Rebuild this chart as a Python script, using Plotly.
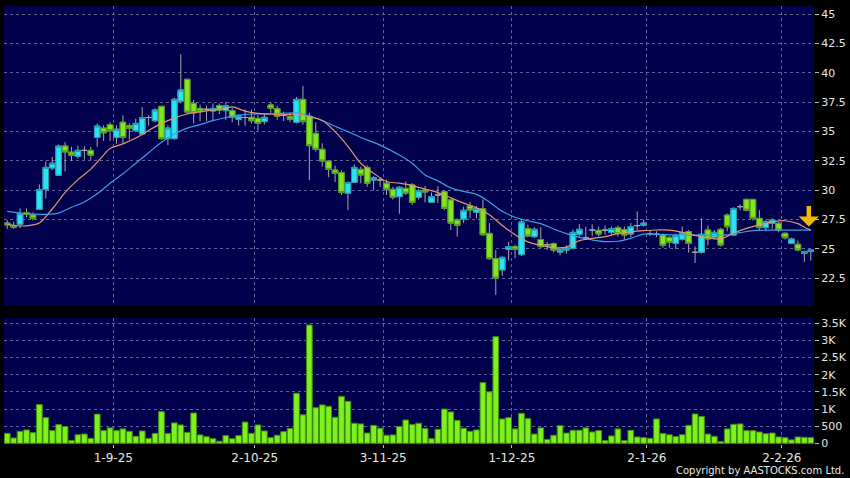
import plotly.graph_objects as go

# ---------------- data ----------------
tick_days = [17, 39, 59, 79, 100, 121]
tick_labels = ["1-9-25", "2-10-25", "3-11-25", "1-12-25", "2-1-26", "2-2-26"]

opens = [27.2, 27.0, 27.1, 28.1, 27.9, 28.37, 30.07, 31.9, 31.28, 33.77,
         33.25, 32.9, 33.4, 33.4, 34.5, 35.3, 35.6, 34.5, 35.8, 35.5,
         35.08, 34.8, 36.2, 35.93, 37.15, 34.4, 34.4, 37.6, 39.46, 37.41,
         36.98, 36.9, 36.76, 37.22, 36.79, 36.79, 36.05, 36.2, 36.22, 36.13,
         35.85, 37.27, 36.95, 36.4, 36.3, 35.8, 37.75, 36.3, 34.85, 33.49,
         32.48, 31.72, 31.5, 29.75, 30.67, 31.78, 31.95, 30.87, 30.87, 30.6,
         30.08, 29.45, 30.16, 30.45, 29.4, 30.02, 28.97, 29.6, 29.88, 29.17,
         27.46, 27.55, 28.66, 28.12, 28.43, 26.32, 24.17, 23.2, 24.96, 25.19,
         24.51, 26.72, 26.04, 25.8, 25.35, 25.45, 24.73, 24.9, 25.05, 26.24,
         25.95, 26.6, 26.58, 26.6, 26.4, 26.82, 26.65, 26.27, 26.98, 27.0,
         26.3, 26.25, 26.18, 25.98, 25.47, 25.82, 26.47, 24.71, 24.71, 26.61,
         25.98, 26.67, 27.88, 26.18, 28.6, 29.22, 29.22, 27.6, 26.81, 27.18,
         27.18, 26.33, 25.48, 25.39, 24.6, 24.77]
highs = [27.45, 27.3, 28.45, 28.45, 28.1, 30.5, 32.45, 32.85, 33.9, 34.1,
         33.7, 33.8, 33.75, 33.7, 35.7, 35.55, 35.8, 35.55, 36.4, 35.7,
         36.1, 37.1, 36.4, 37.0, 37.2, 35.55, 37.9, 41.6, 39.5, 37.7,
         37.3, 37.2, 37.4, 37.4, 37.5, 37.0, 36.45, 36.9, 36.9, 36.4,
         36.5, 37.5, 37.2, 36.7, 36.6, 37.95, 38.9, 36.6, 35.8, 34.0,
         32.5, 32.1, 31.7, 30.75, 32.2, 32.0, 32.1, 31.2, 31.1, 30.9,
         30.3, 30.35, 30.75, 30.6, 30.15, 30.35, 29.8, 30.35, 30.0, 29.2,
         27.6, 28.6, 29.0, 28.65, 29.2, 27.2, 24.9, 24.35, 25.6, 25.35,
         27.5, 27.05, 26.85, 26.85, 25.6, 25.55, 25.15, 25.3, 26.65, 27.1,
         26.9, 27.1, 26.9, 27.0, 26.9, 27.0, 26.9, 27.2, 28.2, 27.5,
         26.6, 26.5, 26.3, 26.1, 26.3, 26.9, 26.6, 25.2, 27.6, 27.0,
         26.6, 26.8, 28.0, 28.55, 28.8, 29.3, 29.25, 28.3, 27.45, 27.6,
         27.3, 26.4, 25.95, 25.7, 24.85, 24.95]
lows = [26.7, 26.7, 26.75, 27.7, 27.45, 28.3, 29.3, 31.7, 31.2, 31.6,
        32.5, 32.7, 32.6, 32.6, 33.7, 34.2, 34.2, 33.95, 34.0, 34.3,
        34.95, 34.7, 35.5, 35.8, 34.3, 33.85, 34.3, 37.4, 36.5, 35.7,
        35.9, 35.9, 35.9, 36.5, 36.0, 35.8, 35.5, 35.5, 35.7, 35.1,
        35.6, 36.6, 36.0, 35.9, 35.8, 35.7, 35.6, 30.87, 33.3, 32.0,
        31.1, 30.7, 29.6, 28.3, 30.6, 30.6, 30.3, 30.0, 30.3, 29.6,
        29.2, 28.0, 29.6, 28.75, 29.2, 28.95, 28.95, 28.9, 28.3, 26.6,
        26.05, 27.2, 27.6, 27.6, 26.1, 24.05, 21.07, 22.7, 24.0, 24.2,
        24.4, 26.0, 25.95, 25.05, 24.9, 24.7, 24.45, 24.6, 24.95, 26.05,
        25.75, 26.1, 26.05, 26.2, 26.2, 26.05, 25.8, 26.0, 26.6, 26.9,
        26.1, 26.0, 25.1, 25.1, 25.0, 25.7, 24.7, 23.8, 24.6, 25.3,
        25.8, 25.2, 26.5, 26.1, 28.3, 28.2, 27.4, 26.6, 26.5, 26.7,
        26.4, 25.8, 25.4, 24.8, 23.9, 24.0]
closes = [27.05, 26.85, 28.0, 27.95, 27.6, 30.07, 31.95, 32.3, 33.76, 33.27,
          32.98, 33.4, 33.4, 32.98, 35.47, 34.9, 35.08, 35.2, 34.5, 35.28,
          35.7, 36.2, 36.2, 36.84, 34.4, 35.3, 37.75, 38.55, 36.67, 36.61,
          36.7, 36.9, 36.98, 36.84, 37.21, 36.22, 36.33, 36.2, 35.93, 35.7,
          36.22, 36.98, 36.3, 36.4, 36.05, 37.75, 35.85, 33.8, 33.49, 32.5,
          31.78, 31.44, 29.8, 30.65, 31.95, 31.3, 30.6, 31.07, 30.87, 30.08,
          29.4, 30.25, 29.76, 28.97, 29.96, 29.85, 29.45, 29.6, 28.46, 27.2,
          27.01, 28.29, 28.32, 28.43, 26.21, 24.17, 22.52, 24.28, 25.19, 24.96,
          27.29, 26.1, 26.67, 25.19, 25.35, 24.9, 24.96, 25.08, 26.41, 26.67,
          25.95, 26.6, 26.27, 26.6, 26.74, 26.3, 26.18, 26.9, 26.98, 27.2,
          26.3, 26.25, 25.3, 25.55, 26.15, 26.4, 25.47, 24.71, 26.24, 25.85,
          26.41, 25.33, 26.89, 28.45, 28.6, 28.3, 27.6, 26.81, 27.34, 27.46,
          26.61, 25.95, 25.85, 24.91, 24.77, 24.91]
volumes = [290, 155, 350, 390, 310, 1130, 750, 370, 545, 490,
           80, 250, 270, 145, 850, 370, 450, 370, 420, 350,
           205, 360, 145, 290, 925, 290, 595, 535, 320, 885,
           245, 195, 135, 60, 225, 135, 225, 620, 290, 535,
           360, 165, 235, 340, 430, 1460, 830, 3450, 1040, 1120,
           1080, 760, 1370, 1225, 585, 565, 300, 525, 440, 235,
           245, 490, 680, 545, 585, 430, 135, 410, 1000, 915,
           670, 440, 350, 390, 1770, 1500, 3110, 710, 750, 420,
           875, 720, 270, 450, 115, 235, 515, 300, 380, 380,
           450, 330, 370, 80, 215, 420, 80, 380, 185, 165,
           145, 710, 290, 250, 195, 250, 525, 855, 780, 270,
           205, 50, 420, 555, 565, 370, 370, 330, 280, 300,
           185, 165, 100, 185, 175, 165]

# moving averages (day index, value)
ma_fast_days = [0, 2, 4, 5, 7, 9, 11, 13, 15, 16, 18, 20, 22, 24, 26, 28, 30, 32, 34, 35,
                37, 39, 41, 43, 45, 47, 49, 51, 53, 55, 57, 59, 61, 63, 65, 67, 69, 71, 73, 75,
                77, 79, 81, 83, 85, 87, 89, 91, 93, 95, 97, 99, 101, 103, 105, 107, 109, 111, 113, 115,
                117, 119, 121, 123, 124, 125]
ma_fast_vals = [27.1, 26.95, 27.05, 27.2, 28.4, 29.8, 30.9, 31.8, 33.0, 33.55, 33.95, 34.45, 35.1, 35.7, 36.15, 36.5, 36.68, 36.84, 36.98, 37.1,
                36.75, 36.55, 36.5, 36.42, 36.5, 36.25, 35.95, 35.0, 33.75, 32.3, 31.45, 30.75, 30.6, 30.4, 30.1, 29.8, 29.35, 28.9, 28.5, 27.9,
                27.0, 26.2, 25.6, 25.3, 25.1, 25.15, 25.7, 25.9, 26.05, 26.3, 26.45, 26.55, 26.61, 26.6, 26.4, 26.15, 25.95, 25.85, 26.35, 26.75,
                27.05, 27.3, 27.4, 27.15, 26.85, 26.6]
ma_slow_days = [0, 3, 6, 8, 10, 12, 14, 16, 18, 20, 22, 24, 26, 28, 30, 32, 34, 36, 38, 41,
                45, 47, 49, 51, 53, 55, 58, 61, 63, 65, 67, 69, 71, 73, 75, 77, 79, 81, 83, 85,
                87, 89, 91, 93, 95, 97, 99, 101, 104, 107, 110, 112, 114, 116, 119, 122, 125]
ma_slow_vals = [28.2, 28.0, 27.95, 28.05, 28.55, 29.0, 29.7, 30.6, 31.4, 32.3, 33.2, 34.1, 34.8, 35.3, 35.6, 35.93, 36.2, 36.4, 36.5, 36.5,
                36.6, 36.35, 35.95, 35.45, 35.0, 34.5, 33.85, 33.0, 32.3, 31.3, 30.8, 30.2, 29.9, 29.65, 29.0, 28.2, 27.7, 27.4, 27.15, 26.7,
                26.3, 25.98, 25.76, 25.62, 25.65, 25.9, 26.25, 26.24, 26.18, 26.17, 26.16, 26.2, 26.38, 26.55, 26.6, 26.6, 26.6]

copyright_text = "Copyright by AASTOCKS.com Ltd."

# ---------------- styling ----------------
BG = "#000000"
PANEL = "#00004c"
GRID = "#62629a"
TEXT = "#e6e6e6"
WICK = "#a8a8a8"
UP_FILL, UP_EDGE = "#2ae4f4", "#1a9cb0"
DN_FILL, DN_EDGE = "#84e424", "#4c9a16"
VOL_FILL, VOL_EDGE = "#7ef01e", "#3f8c0c"
FONT = "DejaVu Sans"

days = list(range(len(opens)))

body_o, body_h, body_l, body_c = [], [], [], []
for o, c in zip(opens, closes):
    if o == c:
        body_o.append(None); body_h.append(None); body_l.append(None); body_c.append(None)
    else:
        body_o.append(o); body_c.append(c); body_h.append(max(o, c)); body_l.append(min(o, c))

fig = go.Figure()

# wicks (and doji lines) in grey
fig.add_trace(go.Candlestick(
    x=days, open=opens, high=highs, low=lows, close=closes,
    increasing=dict(line=dict(color=WICK, width=1), fillcolor=WICK),
    decreasing=dict(line=dict(color=WICK, width=1), fillcolor=WICK),
    whiskerwidth=0, hoverinfo="skip", showlegend=False, xaxis="x", yaxis="y"))

# coloured bodies
fig.add_trace(go.Candlestick(
    x=days, open=body_o, high=body_h, low=body_l, close=body_c,
    increasing=dict(line=dict(color=UP_EDGE, width=1), fillcolor=UP_FILL),
    decreasing=dict(line=dict(color=DN_EDGE, width=1), fillcolor=DN_FILL),
    whiskerwidth=0, showlegend=False, xaxis="x", yaxis="y"))

fig.add_trace(go.Scatter(x=ma_slow_days, y=ma_slow_vals, mode="lines",
                         line=dict(color="#3c9ee6", width=1.2, shape="spline"),
                         showlegend=False, xaxis="x", yaxis="y"))
fig.add_trace(go.Scatter(x=ma_fast_days, y=ma_fast_vals, mode="lines",
                         line=dict(color="#e4956c", width=1.2, shape="spline"),
                         showlegend=False, xaxis="x", yaxis="y"))

fig.add_trace(go.Bar(x=days, y=volumes,
                     marker=dict(color=VOL_FILL, line=dict(color=VOL_EDGE, width=1)),
                     showlegend=False, xaxis="x2", yaxis="y2"))

tickvals = [d - 0.5 for d in tick_days]

common_x = dict(range=[-0.5, len(days) - 0.5], showgrid=True, gridcolor=GRID, griddash="3px,3px",
                gridwidth=1, zeroline=False, showline=False, tickvals=tickvals)

fig.update_layout(
    width=850, height=478,
    paper_bgcolor=BG, plot_bgcolor=PANEL,
    margin=dict(l=4, r=36, t=6, b=34),
    font=dict(family=FONT, color=TEXT, size=11),
    boxgap=0.1, boxgroupgap=0.04, bargap=0.11,
    xaxis=dict(**common_x, anchor="y", showticklabels=False, ticks="",
               rangeslider=dict(visible=False)),
    xaxis2=dict(**common_x, anchor="y2", matches="x", ticktext=tick_labels,
                ticks="outside", ticklen=3, tickcolor="#bbbbbb",
                tickfont=dict(size=12, color=TEXT), rangeslider=dict(visible=False)),
    yaxis=dict(domain=[0.3151, 1], side="right", range=[20.13, 45.71],
               tick0=0, dtick=2.5, showgrid=True, gridcolor=GRID, griddash="3px,3px",
               zeroline=False, showline=False, ticks="outside", ticklen=4,
               tickcolor="#bbbbbb", anchor="x", tickfont=dict(size=11, color=TEXT)),
    yaxis2=dict(domain=[0, 0.2877], side="right", range=[-20, 3655],
                tickvals=[0, 500, 1000, 1500, 2000, 2500, 3000, 3500],
                ticktext=["0", "500", "1K", "1.5K", "2K", "2.5K", "3K", "3.5K"],
                showgrid=True, gridcolor=GRID, griddash="3px,3px",
                zeroline=False, showline=False, ticks="outside", ticklen=4,
                tickcolor="#bbbbbb", anchor="x2", tickfont=dict(size=11, color=TEXT)),
    annotations=[
        dict(x=days[-1], y=26.9, xref="x", yref="y", text="", showarrow=True,
             ax=0, ay=-22, arrowhead=1, arrowsize=0.75, arrowwidth=4.5,
             arrowcolor="#f2b800", xshift=-2),
        dict(x=1.0395, y=-0.0616, xref="paper", yref="paper", text=copyright_text,
             showarrow=False, xanchor="right", yanchor="middle",
             font=dict(size=10, color=TEXT, family=FONT)),
    ],
)

fig.write_html("out.html", config={"displayModeBar": False},
               post_script="document.body.style.margin='0';document.body.style.background='#000';")
